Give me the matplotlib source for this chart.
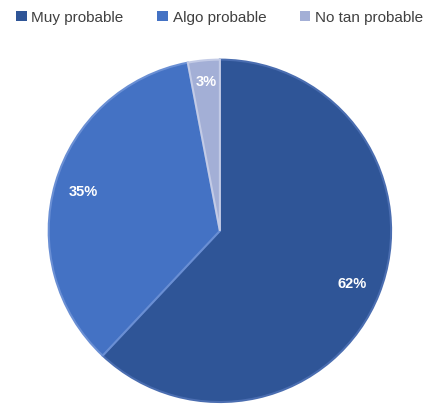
import matplotlib.pyplot as plt
from matplotlib.patches import Patch

plt.rcParams['font.family'] = ['Liberation Sans', 'DejaVu Sans']

labels = ["Muy probable", "Algo probable", "No tan probable"]
values = [62, 35, 3]
colors = ["#2f5597", "#4472c4", "#a3afd6"]
edges = ["#4a6db0", "#6a8fd4", "#c3cbe6"]

fig = plt.figure(figsize=(4.35, 4.06), dpi=100)
ax = fig.add_axes([0.108, 0.003, 0.795, 0.852])

wedges, texts, autotexts = ax.pie(
    values, colors=colors, startangle=90, counterclock=False,
    autopct="%d%%", pctdistance=0.83, radius=1,
    wedgeprops=dict(linewidth=1.5),
    textprops=dict(color="white", fontsize=10.5, fontweight="bold"),
)
for w, ec in zip(wedges, edges):
    w.set_edgecolor(ec)
autotexts[2].set_position((autotexts[2].get_position()[0], 0.875))
ax.set_xlim(-1.01, 1.01)
ax.set_ylim(-1.01, 1.01)
ax.set_aspect("equal")

handles = [Patch(facecolor=c, edgecolor="none") for c in colors]
fig.legend(handles, labels, loc="center", bbox_to_anchor=(0.505, 0.955), ncol=3,
           frameon=False, fontsize=11, handlelength=0.7, handleheight=0.7,
           handletextpad=0.3, columnspacing=2.2, labelcolor="#404040")

fig.savefig("out.png", dpi=100)
